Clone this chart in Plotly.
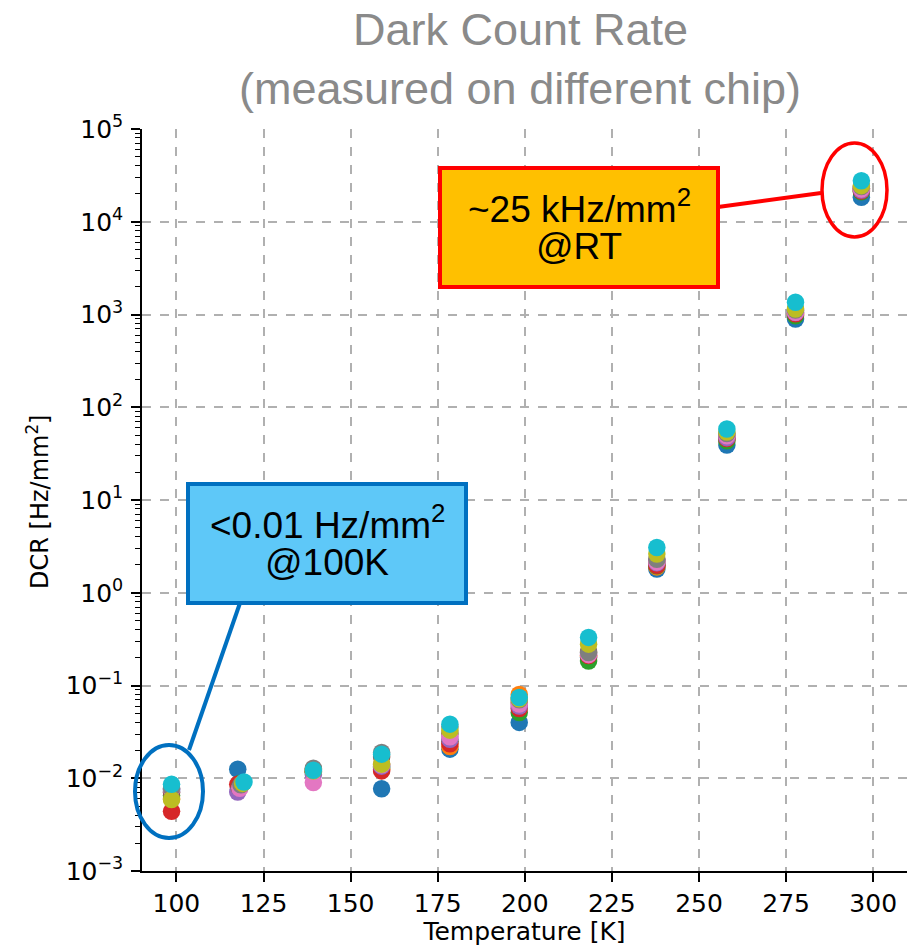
import plotly.graph_objects as go

# ---------------- data ----------------
temps = [98.6, 118.3, 139.3, 158.9, 178.5, 198.4, 218.3, 237.9, 258.0, 277.7, 296.6]
# measured temperature of each channel at the ~118 K step (slightly different per channel)
temps_118 = [117.6, 118.0, 118.2, 117.6, 117.6, 118.0, 118.2, 118.5, 119.0, 119.4]

colors = ["#1f77b4", "#ff7f0e", "#2ca02c", "#d62728", "#9467bd",
          "#8c564b", "#e377c2", "#7f7f7f", "#bcbd22", "#17becf"]

dcr_blue   = [0.0075, 0.0125, 0.0118, 0.0077, 0.0206, 0.040, 0.200, 1.80, 39.1, 894, 18400]
dcr_orange = [0.0060, 0.0085, 0.0120, 0.0125, 0.0220, 0.080, 0.205, 1.90, 45.0, 1000, 22600]
dcr_green  = [0.0065, 0.0088, 0.0115, 0.0130, 0.0250, 0.051, 0.184, 1.95, 43.5, 971, 21000]
dcr_red    = [0.0044, 0.0086, 0.0118, 0.0120, 0.0235, 0.0565, 0.210, 1.98, 46.0, 1020, 21500]
dcr_purple = [0.0072, 0.0071, 0.0110, 0.0135, 0.0263, 0.060, 0.220, 2.10, 47.0, 1050, 22000]
dcr_brown  = [0.0070, 0.0080, 0.0125, 0.0170, 0.0300, 0.065, 0.230, 2.20, 50.0, 1100, 23000]
dcr_pink   = [0.0076, 0.0078, 0.0090, 0.0140, 0.0280, 0.063, 0.215, 2.15, 49.3, 1056, 22600]
dcr_gray   = [0.0078, 0.0085, 0.0128, 0.0190, 0.0360, 0.070, 0.227, 2.30, 52.0, 1120, 24000]
dcr_olive  = [0.0059, 0.0088, 0.0120, 0.0142, 0.0330, 0.072, 0.279, 2.61, 54.0, 1147, 24500]
dcr_cyan   = [0.0086, 0.0091, 0.0122, 0.0182, 0.0383, 0.0743, 0.330, 3.08, 58.2, 1355, 27700]

series = [dcr_blue, dcr_orange, dcr_green, dcr_red, dcr_purple,
          dcr_brown, dcr_pink, dcr_gray, dcr_olive, dcr_cyan]

x_ticks = [100, 125, 150, 175, 200, 225, 250, 275, 300]
y_exps = [-3, -2, -1, 0, 1, 2, 3, 4, 5]

# ---------------- layout helpers ----------------
W, H = 907, 946
L, R, T, B = 142, 0, 129, 75
PW, PH = W - L - R, H - T - B


def px(x):
    return (x - L) / PW


def py(y):
    return (H - B - y) / PH


fig = go.Figure()
for i, vals in enumerate(series):
    xs = list(temps)
    xs[1] = temps_118[i]
    fig.add_trace(go.Scatter(
        x=xs, y=vals, mode="markers",
        marker=dict(size=17.5, color=colors[i], line=dict(width=0)),
        showlegend=False, hoverinfo="x+y"))

tick_font = dict(family="DejaVu Sans", size=25, color="black")
title_font = dict(family="DejaVu Sans", size=25, color="black")

ytickvals = [10.0 ** e for e in y_exps]
yticktext = ["10<sup>%s</sup>" % (str(e).replace("-", "\u2212")) for e in y_exps]
yminor = [m * 10.0 ** e for e in y_exps[:-1] for m in range(2, 10)]

fig.update_xaxes(
    range=[90.12, 309.7], tickvals=x_ticks, ticks="outside", ticklen=9,
    tickwidth=1.5, tickcolor="black", showline=True, linecolor="black",
    linewidth=1.5, showgrid=True, gridcolor="#b0b0b0", gridwidth=1.5,
    griddash="dash", zeroline=False, tickfont=tick_font,
    title=dict(text="Temperature [K]", font=title_font, standoff=2),
)
fig.update_yaxes(
    type="log", range=[-3, 5], tickmode="array", tickvals=ytickvals,
    ticktext=yticktext, ticks="outside", ticklen=9, tickwidth=1.5,
    tickcolor="black", showline=True, linecolor="black", linewidth=1.5,
    showgrid=True, gridcolor="#b0b0b0", gridwidth=1.5, griddash="dash",
    zeroline=False, tickfont=tick_font, ticklabelstandoff=3,
    minor=dict(tickvals=yminor, ticks="outside", ticklen=5, tickwidth=1,
               tickcolor="black", showgrid=False),
)

box_font = dict(family="Liberation Sans", size=37, color="black")
title_gray = dict(family="Liberation Sans", size=45, color="#8a8a8a")


def label(text, x, y, font, **kw):
    d = dict(text=text, x=px(x), y=py(y), xref="paper", yref="paper",
             showarrow=False, xanchor="center", yanchor="middle", font=font)
    d.update(kw)
    return d


annotations = [
    label("Dark Count Rate", 520, 30, title_gray),
    label("(measured on different chip)", 520, 88, title_gray),
    label("DCR [Hz/mm<sup>2</sup>]", 38, 502,
          dict(family="DejaVu Sans", size=24, color="black"), textangle=-90),
    label("~25 kHz/mm<sup>2</sup>", 579, 206, box_font),
    label("@RT", 579, 246, box_font),
    label("<0.01 Hz/mm<sup>2</sup>", 327, 522, box_font),
    label("@100K", 327, 562, box_font),
]

shapes = [
    dict(type="rect", xref="paper", yref="paper", x0=px(440), x1=px(718),
         y0=py(287), y1=py(168), fillcolor="#FFC000",
         line=dict(color="#FF0000", width=4), layer="above"),
    dict(type="rect", xref="paper", yref="paper", x0=px(188), x1=px(466),
         y0=py(603), y1=py(484), fillcolor="#5EC8F8",
         line=dict(color="#0070C0", width=4), layer="above"),
    dict(type="line", xref="paper", yref="paper", x0=px(718), y0=py(207),
         x1=px(821), y1=py(193), line=dict(color="#FF0000", width=4)),
    dict(type="circle", xref="paper", yref="paper", x0=px(822), x1=px(887),
         y0=py(237), y1=py(143), line=dict(color="#FF0000", width=3.5)),
    dict(type="line", xref="paper", yref="paper", x0=px(240), y0=py(603),
         x1=px(189), y1=py(750), line=dict(color="#0070C0", width=4)),
    dict(type="circle", xref="paper", yref="paper", x0=px(135), x1=px(203),
         y0=py(838), y1=py(745), line=dict(color="#0070C0", width=4)),
]

fig.update_layout(
    width=W, height=H, margin=dict(l=L, r=R, t=T, b=B, autoexpand=False),
    paper_bgcolor="white", plot_bgcolor="white",
    annotations=annotations, shapes=shapes, showlegend=False,
)

fig.write_html("out.html")
